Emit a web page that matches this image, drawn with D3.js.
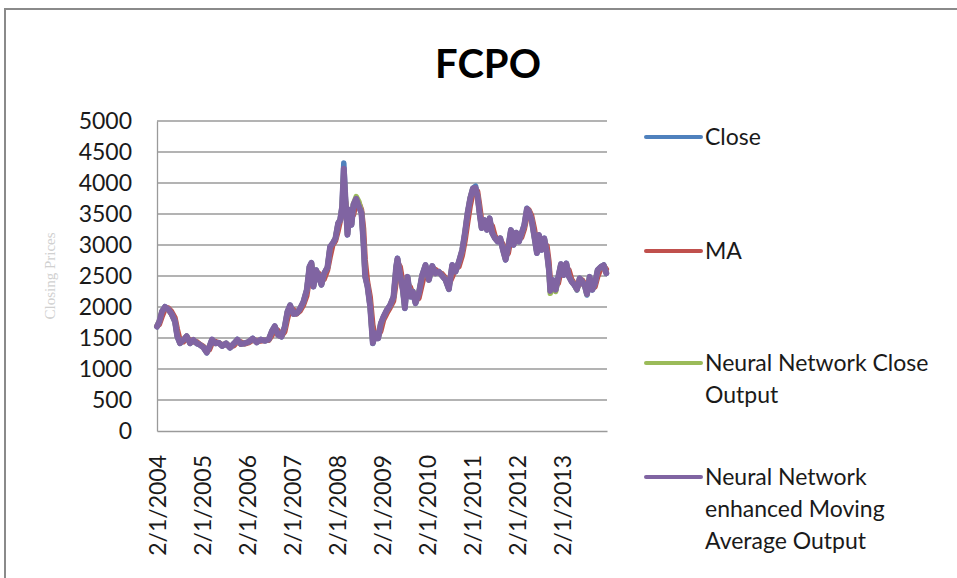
<!DOCTYPE html>
<html><head><meta charset="utf-8">
<script src="https://cdn.jsdelivr.net/npm/d3@7"></script>
<style>html,body{margin:0;padding:0;background:#fff;}svg{display:block;}</style>
</head><body><svg id="chart" width="957" height="578"></svg>
<script>
const title = "FCPO";
const yAxisTitle = "Closing Prices";
const yTicks = [0,500,1000,1500,2000,2500,3000,3500,4000,4500,5000];
const xTickYears = [2004,2005,2006,2007,2008,2009,2010,2011,2012,2013];
const xTickLabels = ["2/1/2004","2/1/2005","2/1/2006","2/1/2007","2/1/2008","2/1/2009","2/1/2010","2/1/2011","2/1/2012","2/1/2013"];
const seriesNames = ["Close","MA","Neural Network Close Output","Neural Network enhanced Moving Average Output"];
const legendLines = [["Close"],["MA"],["Neural Network Close","Output"],["Neural Network","enhanced Moving","Average Output"]];
const seriesColors = ["#4F81BD","#C0504D","#9BBB59","#8064A2"];

// dates as fractional years
const years = [
2004.000,2004.052,2004.111,2004.178,2004.252,2004.326,2004.400,2004.452,2004.511,2004.586,
2004.660,2004.734,2004.808,2004.882,2004.956,2005.030,2005.105,2005.164,2005.223,2005.297,
2005.371,2005.446,2005.534,2005.623,2005.712,2005.786,2005.861,2005.950,2006.039,2006.127,
2006.216,2006.305,2006.402,2006.483,2006.557,2006.617,2006.691,2006.765,2006.839,2006.898,
2006.958,2007.032,2007.106,2007.180,2007.254,2007.328,2007.388,2007.432,2007.477,2007.536,
2007.595,2007.655,2007.714,2007.788,2007.847,2007.907,2007.966,2008.025,2008.070,2008.114,
2008.151,2008.188,2008.233,2008.277,2008.322,2008.366,2008.426,2008.485,2008.544,2008.589,
2008.626,2008.678,2008.737,2008.796,2008.855,2008.915,2008.974,2009.033,2009.107,2009.181,
2009.256,2009.315,2009.344,2009.404,2009.463,2009.508,2009.567,2009.626,2009.686,2009.745,
2009.819,2009.893,2009.967,2010.041,2010.116,2010.190,2010.264,2010.338,2010.412,2010.486,
2010.560,2010.634,2010.709,2010.783,2010.842,2010.901,2010.961,2011.020,2011.079,2011.124,
2011.168,2011.213,2011.272,2011.331,2011.391,2011.450,2011.509,2011.569,2011.628,2011.687,
2011.747,2011.806,2011.865,2011.924,2011.984,2012.043,2012.102,2012.162,2012.221,2012.265,
2012.325,2012.384,2012.443,2012.488,2012.547,2012.606,2012.666,2012.710,2012.740,2012.799,
2012.859,2012.918,2012.977,2013.036,2013.096,2013.155,2013.214,2013.274,2013.333,2013.392,
2013.451,2013.511,2013.555,2013.614,2013.674,2013.733,2013.792,2013.866,2013.926,2013.985];

const close = [
1681,1762,1924,2004,1961,1886,1762,1519,1412,1466,
1530,1412,1466,1412,1385,1347,1261,1358,1476,1412,
1422,1369,1412,1342,1412,1476,1401,1412,1439,1493,
1428,1476,1455,1476,1617,1692,1546,1519,1681,1924,
2031,1886,1897,1977,2085,2274,2651,2716,2328,2597,
2489,2355,2543,2640,2974,3028,3109,3351,3405,3621,
4321,3728,3163,3567,3324,3648,3739,3621,3513,3028,
2489,2328,2004,1412,1573,1493,1735,1843,1950,2031,
2166,2651,2786,2516,2274,1977,2489,2166,2247,2058,
2220,2516,2678,2435,2662,2543,2570,2500,2435,2285,
2678,2570,2732,2920,3190,3513,3755,3917,3950,3782,
3513,3271,3405,3244,3432,3190,3109,3055,3109,2920,
2759,2974,3244,3001,3200,3055,3190,3324,3594,3540,
3405,3136,2866,3163,2920,3109,2866,2597,2247,2435,
2274,2489,2694,2516,2705,2489,2408,2355,2274,2462,
2408,2328,2193,2489,2274,2381,2597,2651,2678,2543];

const ma = [
1690,1720,1843,1964,1982,1924,1824,1640,1466,1439,
1498,1471,1439,1439,1398,1366,1304,1310,1417,1444,
1417,1395,1390,1377,1377,1444,1438,1406,1425,1466,
1460,1452,1465,1465,1546,1654,1619,1532,1600,1802,
1977,1958,1891,1937,2031,2179,2462,2683,2522,2462,
2543,2422,2449,2591,2807,3001,3068,3230,3378,3513,
3760,3700,3445,3365,3445,3486,3693,3680,3567,3270,
2758,2408,2166,1708,1492,1533,1614,1789,1896,1990,
2098,2408,2718,2651,2395,2125,2233,2327,2206,2152,
2139,2368,2597,2556,2548,2602,2556,2535,2467,2360,
2481,2624,2651,2826,3055,3351,3634,3836,3880,3866,
3647,3392,3338,3324,3338,3311,3150,3082,3082,3014,
2839,2866,3109,3122,3100,3127,3122,3257,3459,3567,
3472,3270,3001,3014,3041,3014,2987,2731,2422,2341,
2355,2381,2591,2605,2610,2597,2448,2381,2314,2368,
2435,2368,2260,2341,2381,2327,2489,2624,2664,2610];

const nnClose = [
1690,1770,1930,1995,1965,1880,1770,1530,1420,1470,
1525,1420,1470,1420,1392,1352,1270,1360,1470,1415,
1425,1375,1415,1348,1410,1470,1405,1415,1440,1488,
1432,1472,1458,1478,1610,1685,1550,1525,1675,1915,
2025,1890,1900,1975,2080,2270,2640,2705,2340,2590,
2490,2365,2540,2635,2965,3030,3105,3345,3400,3615,
4150,3735,3180,3570,3335,3660,3780,3700,3530,3040,
2500,2335,2015,1425,1570,1500,1730,1840,1945,2025,
2160,2640,2770,2520,2285,1990,2480,2175,2250,2070,
2225,2510,2670,2440,2655,2545,2565,2505,2440,2295,
2670,2575,2725,2915,3180,3505,3760,3905,3910,3790,
3520,3280,3400,3250,3425,3195,3115,3060,3105,2930,
2770,2965,3235,3010,3195,3060,3185,3315,3575,3545,
3410,3145,2880,3155,2930,3100,2870,2590,2220,2420,
2250,2480,2685,2520,2695,2495,2415,2360,2280,2455,
2410,2335,2205,2480,2285,2380,2590,2645,2670,2550];

const nnMa = [
1685,1765,1928,2000,1962,1888,1765,1525,1418,1468,
1528,1416,1468,1416,1390,1350,1268,1360,1474,1414,
1424,1372,1414,1345,1412,1474,1403,1414,1440,1490,
1430,1474,1456,1477,1614,1690,1548,1522,1680,1920,
2028,1888,1898,1976,2082,2272,2648,2710,2332,2594,
2490,2360,2542,2638,2970,3028,3108,3348,3402,3618,
4230,3730,3170,3568,3328,3652,3745,3622,3518,3032,
2495,2332,2010,1420,1574,1496,1734,1842,1948,2030,
2165,2648,2780,2518,2280,1985,2486,2170,2248,2062,
2222,2514,2675,2438,2660,2544,2568,2502,2436,2290,
2676,2572,2730,2918,3188,3510,3752,3912,3920,3785,
3516,3275,3403,3246,3430,3192,3112,3058,3108,2924,
2765,2970,3240,3004,3198,3056,3188,3320,3585,3538,
3404,3140,2872,3160,2924,3106,2870,2600,2260,2432,
2280,2486,2690,2516,2700,2490,2410,2358,2285,2460,
2408,2332,2210,2486,2280,2380,2594,2648,2674,2545];

const seriesValues = [close, ma, nnClose, nnMa];

const svg = d3.select("#chart");
const FONT = "Lato, 'Open Sans', sans-serif";

// outer chart border (top and left visible)
svg.append("path").attr("d","M5,578 L5,9 L957,9").attr("fill","none")
  .attr("stroke","#8a8a8a").attr("stroke-width",2);

const plot = {left:157, right:607, top:121, bottom:431};
const x = d3.scaleLinear().domain([2004, 2014]).range([plot.left, plot.right]);
const y = d3.scaleLinear().domain([0, 5000]).range([plot.bottom, plot.top]);

// gridlines
svg.append("g").selectAll("line").data(yTicks.filter(d=>d>0)).join("line")
  .attr("x1",plot.left).attr("x2",plot.right)
  .attr("y1",d=>y(d)).attr("y2",d=>y(d))
  .attr("stroke","#9a9a9a").attr("stroke-width",1.3);

// y axis
const yAxis = d3.axisLeft(y).tickValues(yTicks).tickSize(0).tickPadding(25).tickFormat(d3.format("d"));
const gy = svg.append("g").attr("transform",`translate(${plot.left},0)`).call(yAxis);
gy.select(".domain").attr("stroke","#9a9a9a").attr("stroke-width",1.3);
gy.selectAll("text").attr("font-family",FONT).attr("font-size",23).attr("fill","#1a1a1a");

// x axis
const xAxis = d3.axisBottom(x).tickValues(xTickYears.map(v=>v+1/365)).tickSize(0)
  .tickFormat((d,i)=>xTickLabels[i]);
const gx = svg.append("g").attr("transform",`translate(0,${plot.bottom})`).call(xAxis);
gx.select(".domain").attr("stroke","#9a9a9a").attr("stroke-width",1.3);
gx.selectAll("text").attr("font-family",FONT).attr("font-size",23).attr("fill","#1a1a1a")
  .attr("transform","rotate(-90)").attr("text-anchor","end")
  .attr("x",-24).attr("y",0).attr("dy","0.35em");

// series lines
const line = d3.line().x((d,i)=>x(years[i])).y(d=>y(d));
seriesValues.forEach((vals,k)=>{
  svg.append("path").datum(vals).attr("d",line)
    .attr("fill","none").attr("stroke",seriesColors[k])
    .attr("stroke-width",k===3?6:5.5).attr("stroke-linejoin","round").attr("stroke-linecap","round");
});

// title
svg.append("text").attr("x",488).attr("y",78).attr("text-anchor","middle")
  .attr("font-family",FONT).attr("font-weight","bold").attr("font-size",40).attr("fill","#000").text(title);

// y axis title
svg.append("text").attr("transform","translate(55,276) rotate(-90)").attr("text-anchor","middle")
  .attr("font-family","'Liberation Serif','Times New Roman',serif").attr("font-size",15)
  .attr("fill","#d0d0d0").text(yAxisTitle);

// legend
const legendY = [137, 251, 363, 477];
const lg = svg.append("g");
legendLines.forEach((lines,k)=>{
  lg.append("line").attr("x1",646).attr("x2",701).attr("y1",legendY[k]).attr("y2",legendY[k])
    .attr("stroke",seriesColors[k]).attr("stroke-width",4).attr("stroke-linecap","round");
  const t = lg.append("text").attr("x",705).attr("y",legendY[k])
    .attr("font-family",FONT).attr("font-size",23).attr("fill","#1a1a1a");
  lines.forEach((s,j)=>{
    t.append("tspan").attr("x",705).attr("dy", j===0 ? "0.35em" : "32px").text(s);
  });
});
</script></body></html>
